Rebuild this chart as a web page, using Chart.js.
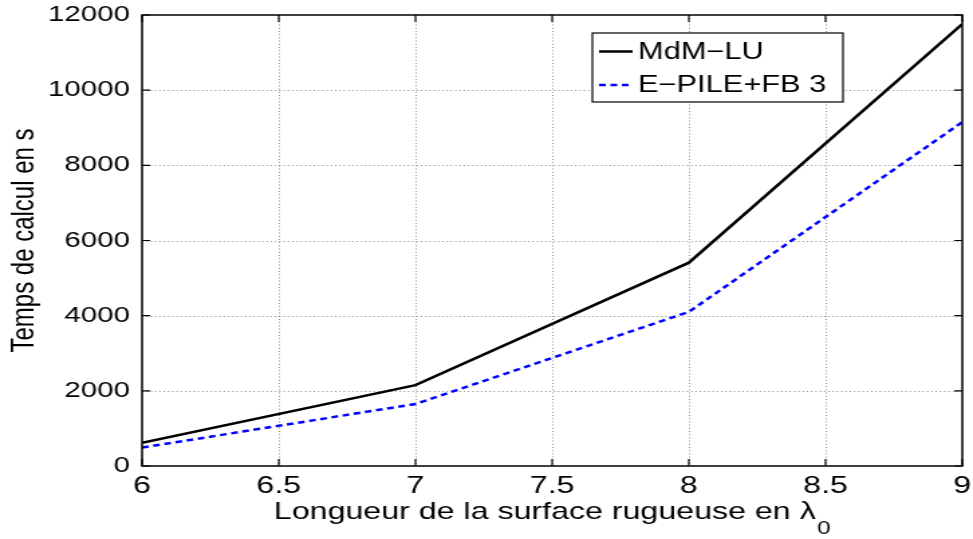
<!DOCTYPE html>
<html>
<head>
<meta charset="utf-8">
<script src="https://cdn.jsdelivr.net/npm/chart.js@4/dist/chart.umd.min.js"></script>
<style>
  html, body { margin: 0; padding: 0; background: #fff; }
  /* canvas is drawn narrower and stretched sideways, like the exported figure */
  #temps { width: 973px; height: 539px; }
</style>
</head>
<body>
<canvas id="temps" width="726" height="539" style="width:973px;height:539px"></canvas>
<script>
// longueur de la surface (en lambda_0) et temps de calcul (s)
const longueurs = [6, 7, 8, 9];
const tempsMdM = [620, 2150, 5410, 11760];
const tempsEPile = [490, 1650, 4100, 9150];
const seriesLabels = ['MdM\u2212LU', 'E\u2212PILE+FB 3'];
const xTicks = [6, 6.5, 7, 7.5, 8, 8.5, 9];
const yTicks = [0, 2000, 4000, 6000, 8000, 10000, 12000];

const FONT = "'Liberation Sans', Arial, Helvetica, sans-serif";

const toPoints = vals => vals.map((v, i) => ({ x: longueurs[i], y: v }));

// grille pointillée sous les courbes
const grillePlugin = {
    id: 'grille',
    beforeDatasetsDraw(chart) {
        const { ctx, chartArea: a } = chart;
        const xs = chart.scales.x, ys = chart.scales.y;
        ctx.save();
        ctx.strokeStyle = 'rgba(0,0,0,0.45)';
        ctx.lineWidth = 1;
        ctx.setLineDash([1, 2.2]);
        ctx.beginPath();
        xTicks.slice(1, -1).forEach(t => {
            const px = Math.round(xs.getPixelForValue(t)) + 0.5;
            ctx.moveTo(px, a.top); ctx.lineTo(px, a.bottom);
        });
        yTicks.slice(1, -1).forEach(t => {
            const py = Math.round(ys.getPixelForValue(t)) + 0.5;
            ctx.moveTo(a.left, py); ctx.lineTo(a.right, py);
        });
        ctx.stroke();
        ctx.restore();
    }
};

// cadre, petites graduations vers l'intérieur, légende et titre de l'axe x
const cadrePlugin = {
    id: 'cadre',
    afterDraw(chart) {
        const { ctx, chartArea: a } = chart;
        const xs = chart.scales.x, ys = chart.scales.y;
        ctx.save();
        ctx.strokeStyle = '#000';
        ctx.lineWidth = 1.5;
        ctx.strokeRect(a.left, a.top, a.right - a.left, a.bottom - a.top);

        ctx.lineWidth = 1.2;
        ctx.beginPath();
        xTicks.forEach(t => {
            const px = xs.getPixelForValue(t);
            ctx.moveTo(px, a.bottom); ctx.lineTo(px, a.bottom - 7);
            ctx.moveTo(px, a.top); ctx.lineTo(px, a.top + 7);
        });
        yTicks.forEach(t => {
            const py = ys.getPixelForValue(t);
            ctx.moveTo(a.left, py); ctx.lineTo(a.left + 6, py);
            ctx.moveTo(a.right, py); ctx.lineTo(a.right - 6, py);
        });
        ctx.stroke();

        // légende
        const lx = 442, ly = 33, lw = 187, lh = 69;
        ctx.fillStyle = '#fff';
        ctx.fillRect(lx, ly, lw, lh);
        ctx.lineWidth = 1.2;
        ctx.strokeRect(lx, ly, lw, lh);
        ctx.font = '23px ' + FONT;
        ctx.textBaseline = 'middle';
        ctx.textAlign = 'left';
        const rows = [51.5, 85];
        chart.data.datasets.forEach((ds, i) => {
            ctx.strokeStyle = ds.borderColor;
            ctx.lineWidth = ds.borderWidth;
            ctx.setLineDash(ds.borderDash || []);
            ctx.beginPath();
            ctx.moveTo(447, rows[i]);
            ctx.lineTo(472, rows[i]);
            ctx.stroke();
            ctx.setLineDash([]);
            ctx.fillStyle = '#000';
            ctx.fillText(ds.label, 476, rows[i] + 1);
        });

        // titre de l'axe x avec indice
        const main = 'Longueur de la surface rugueuse en \u03bb';
        ctx.font = '24px ' + FONT;
        const wMain = ctx.measureText(main).width;
        ctx.font = '18px ' + FONT;
        const wSub = ctx.measureText('0').width;
        const cx = (a.left + a.right) / 2;
        const x0 = cx - (wMain + wSub + 1) / 2;
        ctx.textBaseline = 'alphabetic';
        ctx.fillStyle = '#000';
        ctx.font = '24px ' + FONT;
        ctx.fillText(main, x0, 519);
        ctx.font = '18px ' + FONT;
        ctx.fillText('0', x0 + wMain + 1, 534);
        ctx.restore();
    }
};

new Chart(document.getElementById('temps'), {
    type: 'line',
    data: {
        datasets: [
            {
                label: seriesLabels[0],
                data: toPoints(tempsMdM),
                borderColor: '#000000',
                borderWidth: 2.5,
                pointRadius: 0,
                tension: 0
            },
            {
                label: seriesLabels[1],
                data: toPoints(tempsEPile),
                borderColor: '#0000ff',
                borderWidth: 2.5,
                borderDash: [5, 3.5],
                pointRadius: 0,
                tension: 0
            }
        ]
    },
    options: {
        responsive: false,
        animation: false,
        devicePixelRatio: 1,
        layout: { padding: { top: 15, right: 8, left: 0, bottom: 0 } },
        plugins: {
            legend: { display: false },
            tooltip: { enabled: false }
        },
        scales: {
            x: {
                type: 'linear',
                min: 6,
                max: 9,
                afterBuildTicks: s => { s.ticks = xTicks.map(v => ({ value: v })); },
                afterFit: s => { s.height = 73; s.paddingLeft = 0; s.paddingRight = 0; },
                grid: { display: false, drawTicks: false },
                border: { display: false },
                ticks: {
                    padding: 6,
                    color: '#000',
                    font: { family: FONT, size: 24 },
                    maxRotation: 0,
                    callback: v => String(v)
                },
                title: { display: false }
            },
            y: {
                min: 0,
                max: 12000,
                afterBuildTicks: s => { s.ticks = yTicks.map(v => ({ value: v })); },
                afterFit: s => { s.width = 106; s.paddingTop = 0; s.paddingBottom = 0; },
                grid: { display: false, drawTicks: false },
                border: { display: false },
                ticks: {
                    padding: 9,
                    color: '#000',
                    font: { family: FONT, size: 22 },
                    callback: v => String(v)
                },
                title: {
                    display: true,
                    text: 'Temps de calcul en s',
                    color: '#000',
                    font: { family: FONT, size: 24 },
                    padding: { top: 4, bottom: 0 }
                }
            }
        }
    },
    plugins: [grillePlugin, cadrePlugin]
});
</script>
</body>
</html>
